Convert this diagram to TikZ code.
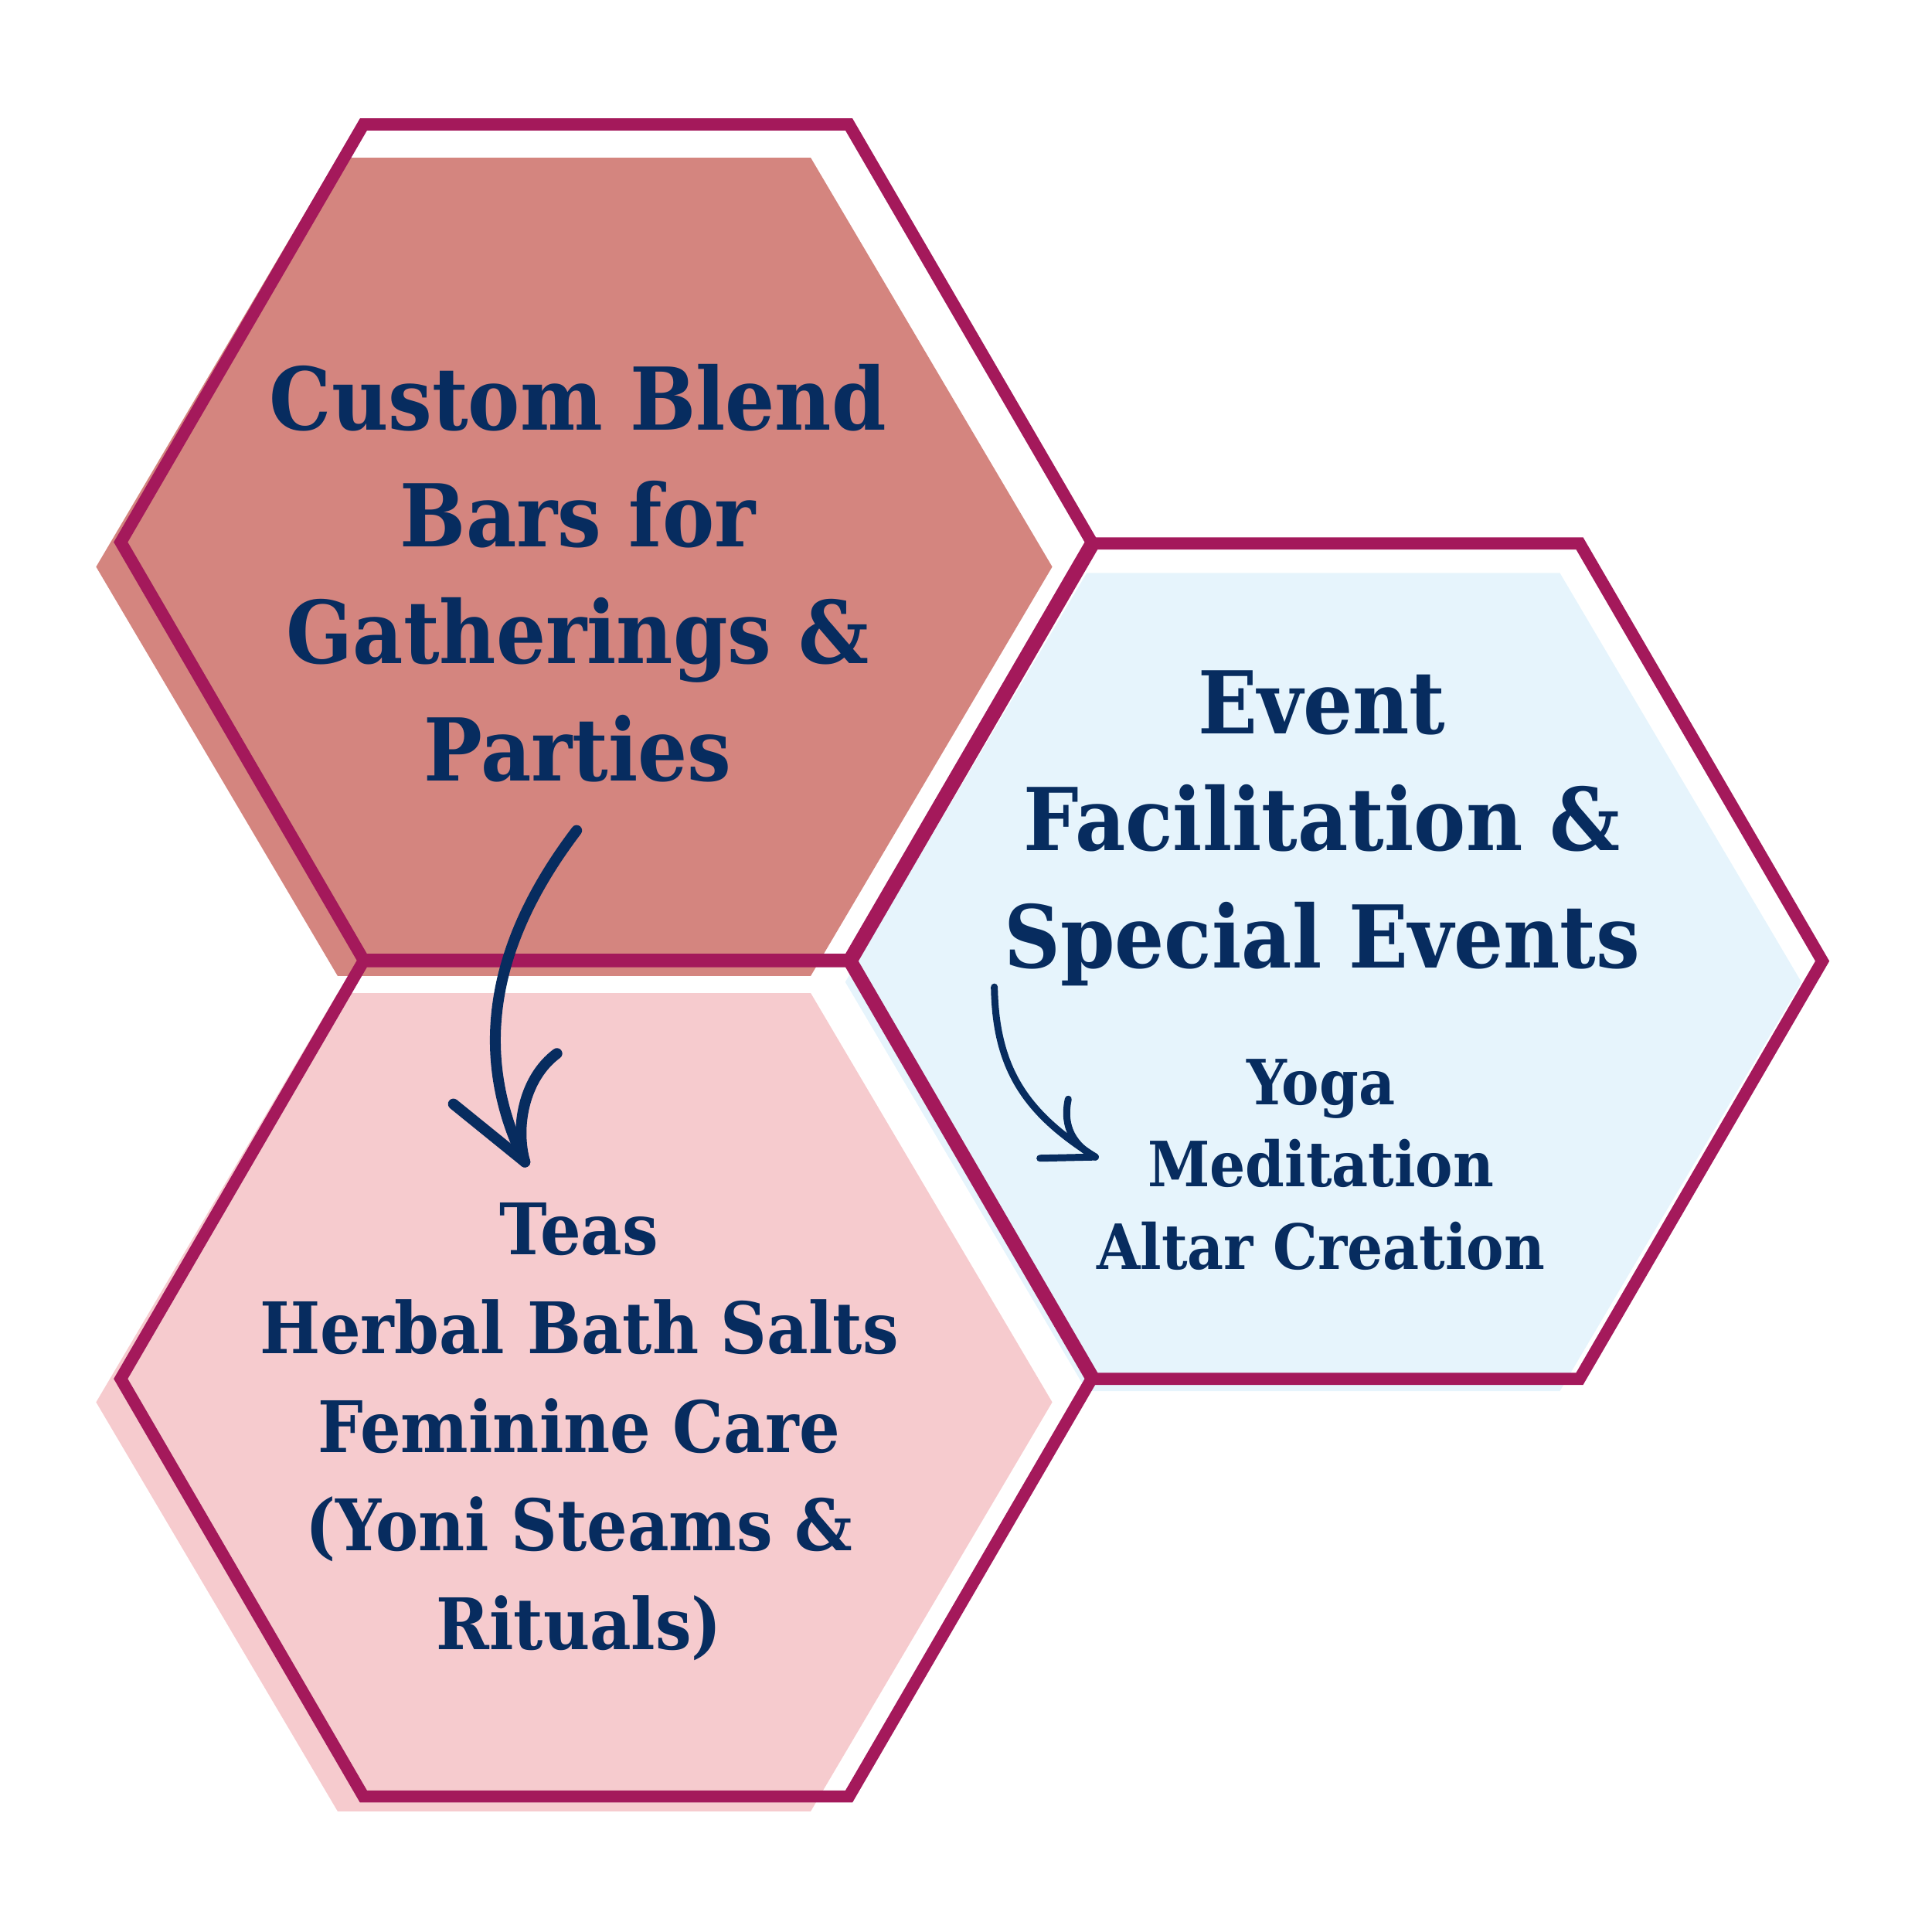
\documentclass[tikz,border=0pt]{standalone}
\usepackage{fontspec}
\setmainfont{DejaVu Serif}[FakeStretch=0.9]
\usepackage{tikz}
\definecolor{hexline}{HTML}{A4195B}
\definecolor{blendfill}{HTML}{D4857F}
\definecolor{teafill}{HTML}{F6CBCE}
\definecolor{eventfill}{HTML}{E6F4FC}
\definecolor{navy}{HTML}{072C5F}

\begin{document}
\begin{tikzpicture}[x=0.01cm, y=-0.01cm,
	every node/.style={text=navy, align=center, inner sep=0pt},
	bigtext/.style={font=\fontsize{20}{27}\selectfont\bfseries},
	midtext/.style={font=\fontsize{16.4}{22.8}\selectfont\bfseries},
	smalltext/.style={font=\fontsize{14.4}{19}\selectfont\bfseries},
	sketch/.style={draw=navy, line width=#1, line cap=round, line join=round},
	sketch/.default=2.5pt]
	\useasboundingbox (0,0) rectangle (1568,1568);
	
	% soft fills, shifted a little off the frames
	\foreach \cx/\cy/\col in {466/460/blendfill, 466/1138/teafill, 1074/797/eventfill}
	\fill[\col] (\cx-388,\cy) -- (\cx-192,\cy-332) -- (\cx+192,\cy-332) -- (\cx+388,\cy)
		-- (\cx+192,\cy+332) -- (\cx-192,\cy+332) -- cycle;
	
	% hexagon frames
	\foreach \cx/\cy in {492/440, 492/1119, 1085/780}
	\draw[hexline, line width=2.8pt, line join=miter] (\cx-394,\cy) -- (\cx-197,\cy-339) -- (\cx+197,\cy-339)
		-- (\cx+394,\cy) -- (\cx+197,\cy+339) -- (\cx-197,\cy+339) -- cycle;
	
	% texts
	\node[bigtext] (blend) at (469,465) {Custom Blend\\Bars for\\Gatherings \&\\Parties};
	\node[midtext] (teas) at (470,1162) {Teas\\Herbal Bath Salts\\Feminine Care\\(Yoni Steams \&\\Rituals)};
	\node[bigtext] (events) at (1073,672) {Event\\Facilitation \&\\Special Events};
	\node[smalltext] (practice) at (1072,945) {Yoga\\Meditation\\Altar Creation};
	
	% hand drawn arrows
	\coordinate (blendtail) at (468,674);
	\coordinate (blendtip) at (426,943);
	\coordinate (blendbarbl) at (368,896);
	\coordinate (blendbarbr) at (452,855);
	\draw[sketch] (blendtail) .. controls (395,770) and (385,860) .. (blendtip);
	\draw[sketch] (blendbarbl) -- (blendtip);
	\draw[sketch] (blendbarbr) .. controls (425,875) and (418,915) .. (blendtip);
	
	\coordinate (eventtail) at (807,801);
	\coordinate (eventtip) at (889,939);
	\coordinate (eventbarbl) at (844,940);
	\coordinate (eventbarbr) at (867,892);
	\draw[sketch=1.6pt] (eventtail) .. controls (808,870) and (835,905) .. (eventtip);
	\draw[sketch=1.6pt] (eventbarbl) -- (eventtip);
	\draw[sketch=1.6pt] (eventbarbr) .. controls (862,915) and (872,930) .. (eventtip);
\end{tikzpicture}
\end{document}
